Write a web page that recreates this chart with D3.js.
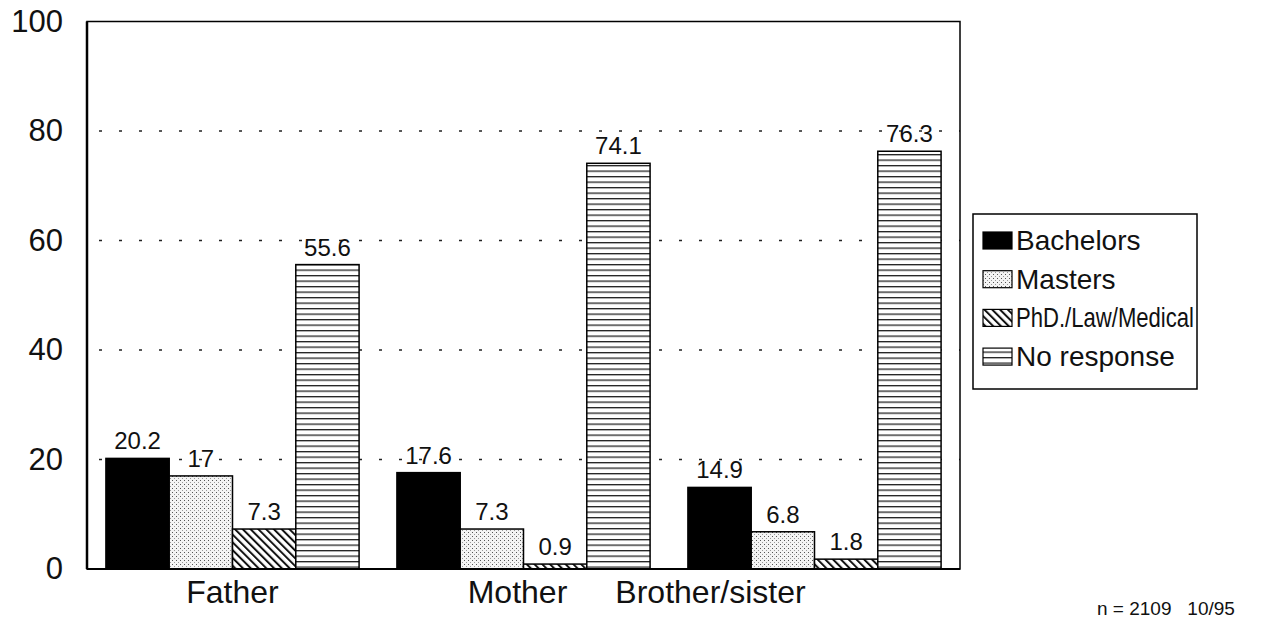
<!DOCTYPE html>
<html><head><meta charset="utf-8">
<script src="https://cdn.jsdelivr.net/npm/d3@7"></script>
<style>body{margin:0;background:#fff}svg{display:block}text{font-family:"Liberation Sans",Arial,sans-serif;fill:#111}</style>
</head><body><svg id="c" width="1262" height="620"></svg>
<script>
const categories = ["Father", "Mother", "Brother/sister"];
const seriesNames = ["Bachelors", "Masters", "PhD./Law/Medical", "No response"];
const bachelors = [20.2, 17.6, 14.9];
const masters = [17, 7.3, 6.8];
const phd = [7.3, 0.9, 1.8];
const noResponse = [55.6, 74.1, 76.3];
const valueLabels = [["20.2","17","7.3","55.6"],["17.6","7.3","0.9","74.1"],["14.9","6.8","1.8","76.3"]];
const yTicks = [0, 20, 40, 60, 80, 100];
const note = "n = 2109   10/95";

const series = [bachelors, masters, phd, noResponse];
const svg = d3.select("#c");
const m = {l: 87, r: 960, t: 21.5, b: 569};
const FONT = '"Liberation Sans",Arial,sans-serif';

const defs = svg.append("defs");
const p1 = defs.append("pattern").attr("id","pMast").attr("patternUnits","userSpaceOnUse").attr("width",4).attr("height",4);
p1.append("rect").attr("width",4).attr("height",4).attr("fill","#f4f4f4");
p1.append("rect").attr("x",0).attr("y",0).attr("width",1).attr("height",1).attr("fill","#555");
p1.append("rect").attr("x",2).attr("y",2).attr("width",1).attr("height",1).attr("fill","#999");
const p2 = defs.append("pattern").attr("id","pPhd").attr("patternUnits","userSpaceOnUse").attr("width",5.5).attr("height",5.5).attr("patternTransform","rotate(-45)");
p2.append("rect").attr("width",5.5).attr("height",5.5).attr("fill","#fff");
p2.append("rect").attr("x",0).attr("y",0).attr("width",2).attr("height",5.5).attr("fill","#111");
const p3 = defs.append("pattern").attr("id","pNo").attr("patternUnits","userSpaceOnUse").attr("width",8).attr("height",5.5);
p3.append("rect").attr("width",8).attr("height",5.5).attr("fill","#fff");
p3.append("rect").attr("x",0).attr("y",0).attr("width",8).attr("height",1.3).attr("fill","#222");
const fills = ["#000", "url(#pMast)", "url(#pPhd)", "url(#pNo)"];

const y = d3.scaleLinear().domain([0, 100]).range([m.b, m.t]);
const x0 = d3.scaleBand().domain(categories).range([m.l, m.r]).paddingInner(0.13).paddingOuter(0.065);
const x1 = d3.scaleBand().domain(seriesNames).range([0, x0.bandwidth()]).padding(0);

svg.append("g").selectAll("line").data(yTicks.filter(d => d > 0 && d < 100)).join("line")
  .attr("x1", m.l + 12).attr("x2", m.r).attr("y1", d => y(d)).attr("y2", d => y(d))
  .attr("stroke", "#222").attr("stroke-width", 1.3).attr("stroke-dasharray", "3,17");

const g = svg.append("g");
categories.forEach((c, ci) => {
  seriesNames.forEach((s, si) => {
    const v = series[si][ci];
    const bx = x0(c) + x1(s);
    g.append("rect").attr("x", bx).attr("y", y(v)).attr("width", x1.bandwidth()).attr("height", m.b - y(v))
      .attr("fill", fills[si]).attr("stroke", "#000").attr("stroke-width", 1.5);
    g.append("text").attr("x", bx + x1.bandwidth()/2).attr("y", y(v) - 9).attr("text-anchor","middle")
      .attr("font-size", 24).text(valueLabels[ci][si]);
  });
});

svg.append("rect").attr("x", m.l).attr("y", m.t).attr("width", m.r - m.l).attr("height", m.b - m.t)
  .attr("fill","none").attr("stroke","#000").attr("stroke-width",1.5);
svg.append("line").attr("x1",m.l).attr("x2",m.l).attr("y1",m.t).attr("y2",m.b).attr("stroke","#000").attr("stroke-width",2.5);
svg.append("line").attr("x1",m.l).attr("x2",m.r).attr("y1",m.b).attr("y2",m.b).attr("stroke","#000").attr("stroke-width",2);

const ya = svg.append("g").attr("transform", `translate(${m.l},0)`)
  .call(d3.axisLeft(y).tickValues(yTicks).tickSize(0).tickPadding(24).tickFormat(d3.format("d")));
ya.select(".domain").remove();
ya.selectAll("text").attr("font-size", 31).attr("fill","#111").style("font-family",FONT);

const xa = svg.append("g").attr("transform", `translate(0,${m.b})`)
  .call(d3.axisBottom(x0).tickSize(0).tickPadding(11));
xa.select(".domain").remove();
xa.selectAll("text").attr("font-size", 32).attr("fill","#111").style("font-family",FONT)
  .attr("dx", (d, i) => i === 0 ? 0 : (i === 1 ? -6 : -104));

const lg = svg.append("g").attr("transform","translate(973,214)");
lg.append("rect").attr("width",224).attr("height",175).attr("fill","#fff").attr("stroke","#000").attr("stroke-width",1.5);
seriesNames.forEach((s, i) => {
  const yy = 26 + i * 38.7;
  lg.append("rect").attr("x",10).attr("y",yy-8).attr("width",29).attr("height",17).attr("fill",fills[i]).attr("stroke","#000").attr("stroke-width",1.2);
  const t = lg.append("text").attr("x",43).attr("y",yy+10).attr("font-size",28).text(s);
  if (s.length > 12) t.attr("textLength", 178).attr("lengthAdjust","spacingAndGlyphs");
});

svg.append("text").attr("x",1097).attr("y",615).attr("font-size",19).style("white-space","pre").text(note);
</script></body></html>
